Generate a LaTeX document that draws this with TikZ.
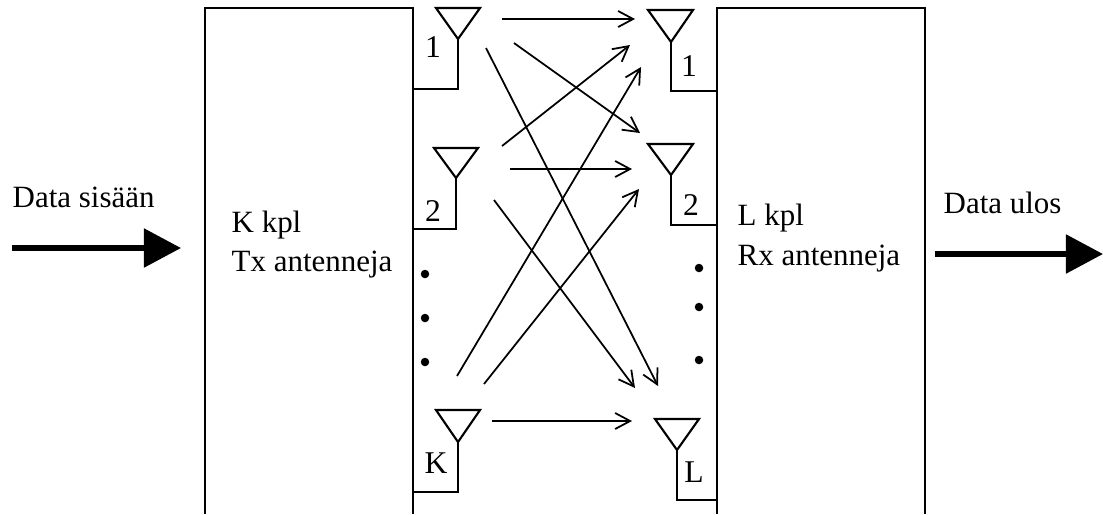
\documentclass[tikz,border=0pt]{standalone}
\usepackage{fontspec}
\setmainfont{Liberation Serif}
\usetikzlibrary{arrows.meta}
\begin{document}
\begin{tikzpicture}[x=0.01cm,y=-0.01cm,>={Straight Barb[length=1.5mm,width=1.6mm]},
    wire/.style={line width=0.6pt},
    link/.style={->,line width=0.5pt},
    bigarrow/.style={-{Triangle[length=3.7mm,width=3.8mm]},line width=1.5pt},
    txt/.style={font=\fontsize{8.8pt}{11pt}\selectfont,inner sep=0pt},
    num/.style={font=\fontsize{9pt}{11pt}\selectfont,inner sep=0pt},
    dot/.style={circle,fill,inner sep=0pt,minimum size=0.85mm}]
    \useasboundingbox (0,0) rectangle (1103,514);
    % boxes, open at the bottom
    \draw [wire] (205,514) -- (205,8) -- (413,8) -- (413,514);
    \draw [wire] (717,514) -- (717,8) -- (925,8) -- (925,514);
    % Tx antennas
    \coordinate (tx1) at (458,39);
    \coordinate (tx2) at (456,178);
    \coordinate (txk) at (458,442);
    \draw [wire] (tx1) -- (436,8) -- (480,8) -- cycle;
    \draw [wire] (tx1) -- (458,89) -- (413,89);
    \draw [wire] (tx2) -- (434,148) -- (478,148) -- cycle;
    \draw [wire] (tx2) -- (456,229) -- (413,229);
    \draw [wire] (txk) -- (436,410) -- (480,410) -- cycle;
    \draw [wire] (txk) -- (458,492) -- (413,492);
    % Rx antennas
    \coordinate (rx1) at (671,42);
    \coordinate (rx2) at (671,175);
    \coordinate (rxl) at (677,450);
    \draw [wire] (rx1) -- (648,10) -- (693,10) -- cycle;
    \draw [wire] (rx1) -- (671,91) -- (717,91);
    \draw [wire] (rx2) -- (648,144) -- (693,144) -- cycle;
    \draw [wire] (rx2) -- (671,225) -- (717,225);
    \draw [wire] (rxl) -- (655,419) -- (699,419) -- cycle;
    \draw [wire] (rxl) -- (677,500) -- (717,500);
    % antenna numbers
    \node [num] (numtx1) at (433,47) {1};
    \node [num] (numtx2) at (433,211) {2};
    \node [num] (numtxk) at (436,463) {K};
    \node [num] (numrx1) at (689,66) {1};
    \node [num] (numrx2) at (691,205) {2};
    \node [num] (numrxl) at (694,472) {L};
    % radio paths
    \coordinate (a1) at (502,19);   \coordinate (b1) at (635,19);
    \coordinate (a2) at (514,43);   \coordinate (b2) at (640,133);
    \coordinate (a3) at (486,48);   \coordinate (b3) at (658,386);
    \coordinate (a4) at (502,146);  \coordinate (b4) at (630,45);
    \coordinate (a5) at (510,169);  \coordinate (b5) at (632,169);
    \coordinate (a6) at (494,200);  \coordinate (b6) at (635,388);
    \coordinate (a7) at (457,376);  \coordinate (b7) at (641,67);
    \coordinate (a8) at (484,384);  \coordinate (b8) at (639,189);
    \coordinate (a9) at (492,421);  \coordinate (b9) at (632,421);
    \draw [link] (a1) -- (b1);
    \draw [link] (a2) -- (b2);
    \draw [link] (a3) -- (b3);
    \draw [link] (a4) -- (b4);
    \draw [link] (a5) -- (b5);
    \draw [link] (a6) -- (b6);
    \draw [link] (a7) -- (b7);
    \draw [link] (a8) -- (b8);
    \draw [link] (a9) -- (b9);
    % dots
    \node [dot] (txdot1) at (425,274) {};
    \node [dot] (txdot2) at (425,318) {};
    \node [dot] (txdot3) at (425,362) {};
    \node [dot] (rxdot1) at (699,268) {};
    \node [dot] (rxdot2) at (699,307) {};
    \node [dot] (rxdot3) at (699,360) {};
    % data in and out
    \coordinate (instart) at (12,248);
    \coordinate (inend) at (181,248);
    \coordinate (outstart) at (935,254);
    \coordinate (outend) at (1103,254);
    \draw [bigarrow] (instart) -- (inend);
    \draw [bigarrow] (outstart) -- (outend);
    \node [txt,anchor=base west] (insisaan) at (12,207) {Data sisään};
    \node [txt,anchor=base west] (outulos) at (943,213) {Data ulos};
    \node [txt,anchor=base west] (txkpl) at (231,232) {K kpl};
    \node [txt,anchor=base west] (txant) at (231,271) {Tx antenneja};
    \node [txt,anchor=base west] (rxkpl) at (737,225) {L kpl};
    \node [txt,anchor=base west] (rxant) at (737,265) {Rx antenneja};
\end{tikzpicture}
\end{document}
